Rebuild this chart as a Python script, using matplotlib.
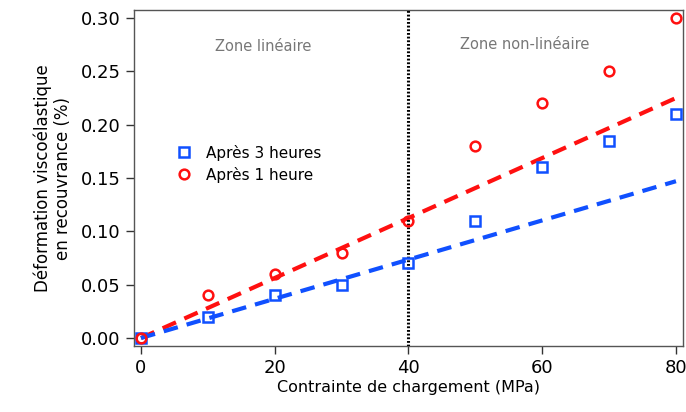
import matplotlib
matplotlib.use("Agg")
import matplotlib.pyplot as plt

# Contrainte (MPa) et déformation (%)
stress = [0, 10, 20, 30, 40, 50, 60, 70, 80]
strain_3h = [0.0, 0.02, 0.04, 0.05, 0.07, 0.11, 0.16, 0.185, 0.21]
strain_1h = [0.0, 0.04, 0.06, 0.08, 0.11, 0.18, 0.22, 0.25, 0.30]

# Droites d'ajustement (zone linéaire prolongée)
fit_x = [0, 80]
fit_3h = [0.0, 0.147]
fit_1h = [0.0, 0.225]

x_ticks = [0, 20, 40, 60, 80]
y_ticks = [0.00, 0.05, 0.10, 0.15, 0.20, 0.25, 0.30]

fig = plt.figure(figsize=(6.86, 4.12), dpi=100)
ax = fig.add_axes([0.1953, 0.1602, 0.8003, 0.8155])

dash = (0, (3.5, 2.2))
ax.plot(fit_x, fit_1h, color="#ff1010", lw=3.0, linestyle=dash, zorder=2)
ax.plot(fit_x, fit_3h, color="#1050ff", lw=3.0, linestyle=dash, zorder=2)

ax.axvline(40, color="black", lw=2.2, linestyle=(0, (0.6, 0.6)), zorder=3)

ax.plot(stress, strain_3h, linestyle="none", marker="s", markersize=7,
        markerfacecolor="none", markeredgecolor="#1050ff", markeredgewidth=1.8,
        label="Après 3 heures", zorder=4)
ax.plot(stress, strain_1h, linestyle="none", marker="o", markersize=7,
        markerfacecolor="none", markeredgecolor="#ff1010", markeredgewidth=1.8,
        label="Après 1 heure", zorder=4)

ax.text(18.2, 0.273, "Zone linéaire", color="#777777", fontsize=10.5, ha="center", va="center")
ax.text(57.4, 0.275, "Zone non-linéaire", color="#777777", fontsize=10.5, ha="center", va="center")

ax.set_xlim(-1.05, 81.05)
ax.set_ylim(-0.0075, 0.3075)
ax.set_xticks(x_ticks)
ax.set_yticks(y_ticks)
ax.yaxis.set_major_formatter(matplotlib.ticker.FormatStrFormatter("%.2f"))
ax.tick_params(direction="out", length=6, width=1, colors="#333333", labelsize=13,
               labelcolor="black", top=False, right=False)
for s in ax.spines.values():
    s.set_color("#555555")
    s.set_linewidth(1)

ax.set_xlabel("Contrainte de chargement (MPa)", fontsize=11.5, labelpad=2)
ax.set_ylabel("Déformation viscoélastique\nen recouvrance (%)", fontsize=12, labelpad=6)

ax.legend(loc="upper left", bbox_to_anchor=(0.05, 0.64), frameon=False, fontsize=11,
          handletextpad=0.8, labelspacing=0.4, handlelength=1.2)

fig.savefig("out.png", dpi=100)
